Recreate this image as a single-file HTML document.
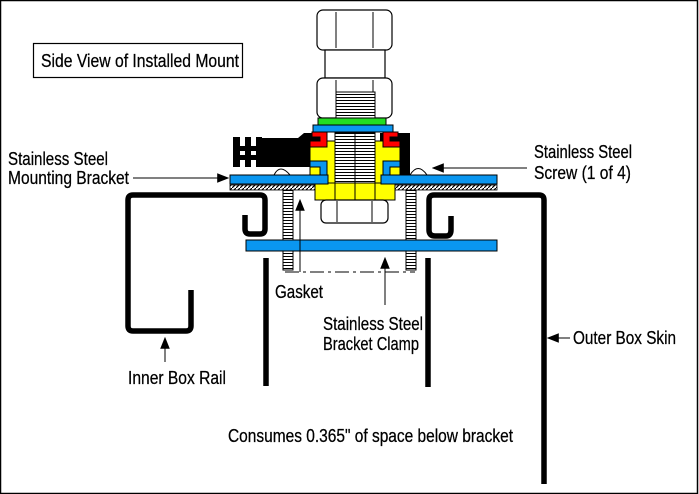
<!DOCTYPE html>
<html><head><meta charset="utf-8"><style>
html,body{margin:0;padding:0;background:#fff}
svg{display:block}
text{font-family:"Liberation Sans",sans-serif;font-size:18px;fill:#000;stroke:#000;stroke-width:0.25}
</style></head><body>
<svg width="699" height="494" viewBox="0 0 699 494" xmlns="http://www.w3.org/2000/svg">
<defs>
<pattern id="h" width="4" height="4" patternUnits="userSpaceOnUse"><rect width="4" height="4" fill="#fff"/><path d="M0 4L4 0" stroke="#000" stroke-width="1.2"/></pattern>
<pattern id="th" width="4" height="3" patternUnits="userSpaceOnUse"><rect width="4" height="3" fill="#fff"/><path d="M0 1.5H4" stroke="#000" stroke-width="1"/></pattern>
<marker id="a" viewBox="0 0 10 10" refX="9" refY="5" markerWidth="12" markerHeight="12" markerUnits="userSpaceOnUse" orient="auto-start-reverse"><path d="M0 1L10 5L0 9z" fill="#000"/></marker>
</defs>
<rect x="0.5" y="0.5" width="697" height="493" fill="#fff" stroke="#000" stroke-width="1.5"/>
<rect x="33.5" y="43.5" width="209" height="34" fill="#fff" stroke="#000" stroke-width="1.2"/>
<text x="41" y="67" textLength="198" lengthAdjust="spacingAndGlyphs" font-size="19">Side View of Installed Mount</text>

<path d="M245 215V229Q245 234 250 234H260Q265 234 265 229V200Q265 195 260 195H133Q128 195 128 200V326Q128 331 133 331H186Q191 331 191 326V290" fill="none" stroke="#000" stroke-width="5.5"/>
<path d="M451 216V230Q451 236 446 236H435Q429 236 429 230V200Q429 195 434 195H539Q544 195 544 200V484" fill="none" stroke="#000" stroke-width="5.5"/>
<line x1="266" y1="258" x2="266" y2="386" stroke="#000" stroke-width="5.5"/>
<line x1="428" y1="258" x2="428" y2="387" stroke="#000" stroke-width="5.5"/>

<rect x="283" y="190" width="10" height="80" fill="url(#th)" stroke="#000" stroke-width="1"/>
<rect x="406" y="190" width="10" height="80" fill="url(#th)" stroke="#000" stroke-width="1"/>
<rect x="246" y="240" width="251" height="11" fill="#0a96f0" stroke="#000" stroke-width="1"/>
<rect x="230" y="185" width="267" height="5" fill="url(#h)" stroke="#000" stroke-width="0.8"/>
<path d="M274 175Q280 163 290 175" fill="#fff" stroke="#000"/>
<path d="M410 175Q418 162 427 175" fill="#fff" stroke="#000"/>

<rect x="317" y="10" width="75" height="40" rx="6" fill="#fff" stroke="#000" stroke-width="1.2"/>
<line x1="336" y1="12" x2="336" y2="48" stroke="#000"/><line x1="373" y1="12" x2="373" y2="48" stroke="#000"/>
<rect x="325" y="50" width="60" height="28" fill="#fff" stroke="#000" stroke-width="1.2"/>
<rect x="317" y="78" width="75" height="40" rx="6" fill="#fff" stroke="#000" stroke-width="1.2"/>
<line x1="336" y1="80" x2="336" y2="116" stroke="#000"/><line x1="373" y1="80" x2="373" y2="116" stroke="#000"/>
<rect x="336" y="92" width="39" height="26" fill="url(#th)" stroke="#000"/>
<rect x="318" y="118" width="68" height="7" fill="#22dd22" stroke="#000"/>
<rect x="313" y="125" width="80" height="7" fill="#0a96f0" stroke="#000"/>

<path d="M262 138H298L304 133H325V167H262Z" fill="#000"/>
<rect x="233" y="137" width="7" height="30" fill="#000"/>
<rect x="239" y="146" width="24" height="5" fill="#000"/><rect x="239" y="155" width="24" height="5" fill="#000"/>
<rect x="245" y="137" width="6" height="30" fill="#000"/><rect x="256" y="137" width="6" height="30" fill="#000"/>
<rect x="380" y="133" width="30" height="42" fill="#000"/>
<rect x="310" y="141" width="90" height="42" fill="#ffff00" stroke="#000"/>
<rect x="315" y="183" width="80" height="17" fill="#ffff00" stroke="#000"/>
<line x1="335" y1="183" x2="335" y2="200" stroke="#000"/><line x1="355" y1="183" x2="355" y2="200" stroke="#000"/><line x1="375" y1="183" x2="375" y2="200" stroke="#000"/>
<path d="M312 132H327V147H310V141H320V137H312Z" fill="#ff0000" stroke="#000"/>
<path d="M398 132H383V147H400V141H390V137H398Z" fill="#ff0000" stroke="#000"/>
<path d="M310 161H327V175H320V167H310Z" fill="#0a96f0" stroke="#000"/>
<path d="M400 161H383V175H390V167H400Z" fill="#0a96f0" stroke="#000"/>
<rect x="335" y="133" width="40" height="50" fill="url(#th)" stroke="#000"/>
<line x1="355" y1="133" x2="355" y2="183" stroke="#000"/>
<rect x="230" y="175" width="98" height="9" fill="#0a96f0" stroke="#000"/>
<rect x="381" y="175" width="116" height="9" fill="#0a96f0" stroke="#000"/>
<rect x="321" y="200" width="67" height="23" rx="5" fill="#fff" stroke="#000" stroke-width="1.2"/>
<line x1="337" y1="201" x2="337" y2="222" stroke="#000"/><line x1="372" y1="201" x2="372" y2="222" stroke="#000"/>

<line x1="285" y1="272" x2="415" y2="272" stroke="#000" stroke-dasharray="14 4 3 4"/>

<line x1="133" y1="178" x2="228" y2="178" stroke="#000" marker-end="url(#a)"/>
<line x1="527" y1="168" x2="433" y2="168" stroke="#000" marker-end="url(#a)"/>
<line x1="300" y1="272" x2="300" y2="200" stroke="#000" marker-end="url(#a)"/>
<line x1="385" y1="305" x2="385" y2="258" stroke="#000" marker-end="url(#a)"/>
<line x1="165" y1="362" x2="165" y2="338" stroke="#000" marker-end="url(#a)"/>
<line x1="570" y1="338" x2="548" y2="338" stroke="#000" marker-end="url(#a)"/>

<text x="8" y="165" textLength="100" lengthAdjust="spacingAndGlyphs">Stainless Steel</text>
<text x="8" y="184" textLength="121" lengthAdjust="spacingAndGlyphs">Mounting Bracket</text>
<text x="534" y="158" textLength="98" lengthAdjust="spacingAndGlyphs">Stainless Steel</text>
<text x="534" y="179" textLength="97" lengthAdjust="spacingAndGlyphs">Screw (1 of 4)</text>
<text x="275" y="298" textLength="48" lengthAdjust="spacingAndGlyphs">Gasket</text>
<text x="323" y="330" textLength="100" lengthAdjust="spacingAndGlyphs">Stainless Steel</text>
<text x="323" y="350" textLength="96" lengthAdjust="spacingAndGlyphs">Bracket Clamp</text>
<text x="128" y="384" textLength="98" lengthAdjust="spacingAndGlyphs">Inner Box Rail</text>
<text x="573" y="344" textLength="103" lengthAdjust="spacingAndGlyphs">Outer Box Skin</text>
<text x="228" y="442" textLength="285" lengthAdjust="spacingAndGlyphs">Consumes 0.365" of space below bracket</text>
</svg>
</body></html>
